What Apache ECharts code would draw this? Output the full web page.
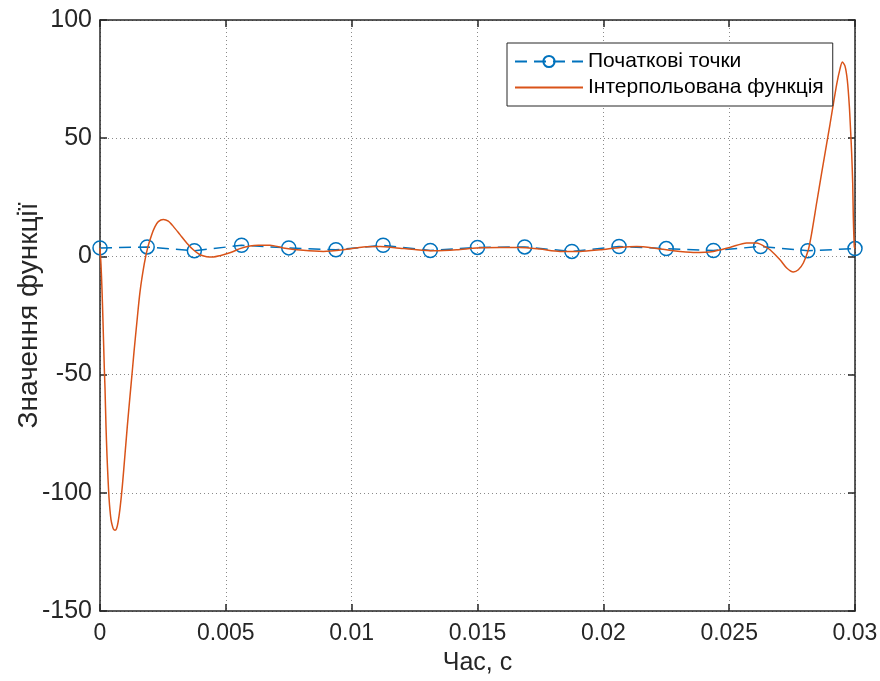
<!DOCTYPE html>
<html>
<head>
<meta charset="utf-8">
<script src="https://cdn.jsdelivr.net/npm/echarts@6/dist/echarts.min.js"></script>
<style>
html,body{margin:0;padding:0;background:#fff;}
#chart{width:880px;height:681px;}
</style>
</head>
<body>
<div id="chart"></div>
<script>
// Original sample points (17 equally spaced nodes)
const nodeTimes = [0, 0.001875, 0.00375, 0.005625, 0.0075, 0.009375, 0.01125, 0.013125, 0.015,
  0.016875, 0.01875, 0.020625, 0.0225, 0.024375, 0.02625, 0.028125, 0.03];
const nodeValues = [3.6, 4.0, 2.4, 4.7, 3.6, 2.8, 4.7, 2.5, 3.8, 4.0, 2.1, 4.2, 3.3, 2.5, 4.2, 2.4, 3.3];

// Interpolated function
const interpTimes = [0, 0.0000397, 0.0000795, 0.0001192, 0.0001709, 0.0001987, 0.0002384, 0.0002781,
  0.0003179, 0.0003576, 0.0003974, 0.0004371, 0.0004887, 0.0005364, 0.000596, 0.0006556, 0.0007152,
  0.0007947, 0.0008861, 0.0009934, 0.0010848, 0.001192, 0.0012834, 0.001351, 0.0014583, 0.0015894,
  0.0017603, 0.0018954, 0.0020543, 0.0021856, 0.0023167, 0.0025152, 0.002714, 0.002913, 0.003179,
  0.003445, 0.003707, 0.003974, 0.004240, 0.004502, 0.004768, 0.005034, 0.005297, 0.005563, 0.005960,
  0.006290, 0.006755, 0.007284, 0.008078, 0.008873, 0.009668, 0.010462, 0.011126, 0.011789, 0.012584,
  0.013244, 0.014173, 0.014968, 0.015894, 0.016689, 0.017483, 0.018278, 0.019073, 0.019868, 0.020662,
  0.021326, 0.021985, 0.022780, 0.023575, 0.024369, 0.025033, 0.025697, 0.026094, 0.026491, 0.026623,
  0.027020, 0.027286, 0.027549, 0.027748, 0.027947, 0.028146, 0.028280, 0.028479, 0.028677, 0.028876,
  0.029007, 0.029139, 0.029274, 0.029404, 0.029496, 0.029603, 0.029695, 0.029774, 0.029829, 0.029869,
  0.029909, 0.029932, 0.029972, 0.03];
const interpValues = [3.6, -3.5, -14.1, -27.7, -47.2, -55.7, -71.9, -84.2,
  -93.9, -102.0, -107.5, -111.3, -113.9, -115.4, -115.8, -115.2, -112.6,
  -106.7, -97.3, -83.7, -71.9, -59.1, -48.5, -40.4, -28.6, -15.0,
  -3.1, 3.7, 9.2, 12.6, 14.7, 15.6, 14.9, 12.7, 9.2,
  5.7, 2.8, 0.7, -0.1, -0.25, 0.3, 1.15, 2.1, 3.3, 4.4,
  4.7, 4.7, 3.6, 2.55, 2.1, 2.8, 4.0, 4.2, 3.6, 2.8,
  2.4, 2.8, 3.6, 3.8, 3.8, 3.1, 2.1, 2.1, 2.8, 3.8,
  4.2, 3.6, 2.4, 1.7, 2.1, 3.8, 5.7, 5.7, 3.7, 2.8,
  -1.4, -4.9, -6.6, -5.65, -2.8, 2.8, 9.9, 22.8, 35.4, 47.8,
  55.9, 64.4, 72.9, 79.3, 82.2, 80.5, 74.5, 63.7, 52.4, 43.2,
  31.1, 17.0, 4.2, 3.3];

const xTicks = {min: 0, max: 0.03, step: 0.005};
const yTicks = {min: -150, max: 100, step: 50};
const seriesNames = ['Початкові точки', 'Інтерпольована функція'];
const axisNames = {x: 'Час, с', y: 'Значення функції'};

const FONT = 'Liberation Sans, Arial, sans-serif';
const TXT = '#262626';
const fmt = v => String(parseFloat(v.toFixed(4)));

const chart = echarts.init(document.getElementById('chart'), null, {renderer: 'canvas'});
const gridLine = {show: true, lineStyle: {color: '#8a8a8a', type: [1, 3], width: 1}};
const axLine = {show: true, onZero: false, lineStyle: {color: TXT, width: 1.5}};
const tick = {show: true, inside: true, length: 7, lineStyle: {color: TXT, width: 1.5}};

chart.setOption({
  animation: false,
  backgroundColor: '#fff',
  grid: {left: 100, right: 25, top: 20, bottom: 70, containLabel: false, outerBoundsMode: 'none'},
  xAxis: [{
    type: 'value', min: xTicks.min, max: xTicks.max, interval: xTicks.step,
    name: axisNames.x, nameLocation: 'middle', nameGap: 40, nameMoveOverlap: false,
    nameTextStyle: {fontFamily: FONT, fontSize: 25, color: TXT},
    axisLine: axLine, axisTick: tick, splitLine: gridLine,
    axisLabel: {fontFamily: FONT, fontSize: 23, color: TXT, margin: 11, formatter: fmt}
  }, {
    type: 'value', position: 'top', min: xTicks.min, max: xTicks.max, interval: xTicks.step,
    axisLine: axLine, axisTick: tick, splitLine: {show: false}, axisLabel: {show: false}
  }],
  yAxis: [{
    type: 'value', min: yTicks.min, max: yTicks.max, interval: yTicks.step,
    name: axisNames.y, nameLocation: 'middle', nameGap: 57, nameMoveOverlap: false,
    nameTextStyle: {fontFamily: FONT, fontSize: 28, color: TXT},
    axisLine: axLine, axisTick: tick, splitLine: gridLine,
    axisLabel: {fontFamily: FONT, fontSize: 25, color: TXT, margin: 8, formatter: fmt}
  }, {
    type: 'value', position: 'right', min: yTicks.min, max: yTicks.max, interval: yTicks.step,
    axisLine: axLine, axisTick: tick, splitLine: {show: false}, axisLabel: {show: false}
  }],
  legend: {
    orient: 'vertical', left: 507, top: 43,
    backgroundColor: '#fff', borderColor: TXT, borderWidth: 1,
    padding: [8, 9, 8, 7], itemGap: 5, itemWidth: 68, itemHeight: 14,
    textStyle: {fontFamily: FONT, fontSize: 21, color: '#000'},
    data: [
      {name: seriesNames[0]},
      {name: seriesNames[1], itemStyle: {color: 'rgba(0,0,0,0)', borderWidth: 0, opacity: 0}}
    ]
  },
  series: [{
    name: seriesNames[0], type: 'line',
    data: nodeTimes.map((t, i) => [t, nodeValues[i]]),
    symbol: 'circle', symbolSize: 14,
    itemStyle: {color: 'rgba(255,255,255,0)', borderColor: '#0072BD', borderWidth: 1.5},
    lineStyle: {color: '#0072BD', width: 1.5, type: [12, 7]},
    z: 2
  }, {
    name: seriesNames[1], type: 'line',
    data: interpTimes.map((t, i) => [t, interpValues[i]]),
    showSymbol: false, symbol: 'none', smooth: 0.25,
    itemStyle: {color: '#D95319'},
    lineStyle: {color: '#D95319', width: 1.5},
    z: 3
  }]
});
</script>
</body>
</html>
